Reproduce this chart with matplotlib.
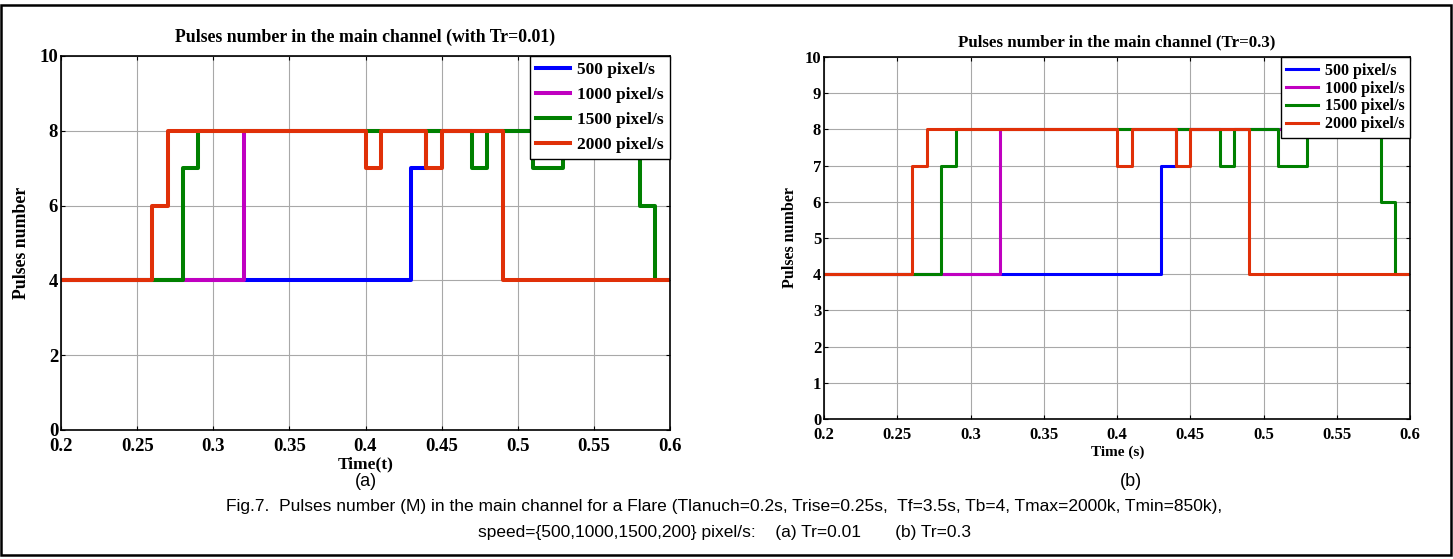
import matplotlib.pyplot as plt
from matplotlib.patches import Rectangle
from matplotlib.ticker import FuncFormatter

W, H = 1453, 559

# step change times / levels (steps-post), one set per speed
speeds = ['500 pixel/s', '1000 pixel/s', '1500 pixel/s', '2000 pixel/s']
colors = ['#0000ff', '#c000c0', '#008000', '#e03008']

t500 = [0.2, 0.43, 0.44, 0.6]
v500 = [4, 7, 8, 8]
t1000 = [0.2, 0.32, 0.6]
v1000 = [4, 8, 8]
t1500 = [0.2, 0.28, 0.29, 0.47, 0.48, 0.51, 0.53, 0.58, 0.59, 0.6]
v1500 = [4, 7, 8, 7, 8, 7, 8, 6, 4, 4]
# Tr=0.01 : red first step goes to 6, Tr=0.3 : to 7
t2000 = [0.2, 0.26, 0.27, 0.40, 0.41, 0.44, 0.45, 0.49, 0.6]
v2000_a = [4, 6, 8, 7, 8, 7, 8, 4, 4]
v2000_b = [4, 7, 8, 7, 8, 7, 8, 4, 4]

data_a = [(t500, v500), (t1000, v1000), (t1500, v1500), (t2000, v2000_a)]
data_b = [(t500, v500), (t1000, v1000), (t1500, v1500), (t2000, v2000_b)]

xticks = [0.2, 0.25, 0.3, 0.35, 0.4, 0.45, 0.5, 0.55, 0.6]

serif = 'Liberation Serif'
sans = 'Liberation Sans'

fig = plt.figure(figsize=(W / 100, H / 100), dpi=100)


def px_axes(x0, top, x1, bottom):
    return fig.add_axes([x0 / W, (H - bottom) / H, (x1 - x0) / W, (bottom - top) / H])


def fmt(x, pos):
    return ('%.2f' % x).rstrip('0').rstrip('.')


def style(ax, yticks, fs, lw_line, data, legfs, lspace, xpad):
    for (t, v), c, lab in zip(data, colors, speeds):
        ax.step(t, v, where='post', color=c, lw=lw_line, label=lab)
    ax.set_xlim(0.2, 0.6)
    ax.set_ylim(0, 10)
    ax.set_xticks(xticks)
    ax.set_yticks(yticks)
    ax.xaxis.set_major_formatter(FuncFormatter(fmt))
    ax.grid(True, color='#a8a8a8', lw=0.8)
    ax.tick_params(direction='in', top=True, right=True, length=3, width=0.8)
    ax.tick_params(axis='x', pad=xpad)
    ax.tick_params(axis='y', pad=2)
    for lab in ax.get_xticklabels() + ax.get_yticklabels():
        lab.set_fontfamily(serif)
        lab.set_fontweight('bold')
        lab.set_fontsize(fs)
    for s in ax.spines.values():
        s.set_linewidth(1.2)
    leg = ax.legend(loc='upper right', prop={'family': serif, 'weight': 'bold', 'size': legfs},
                    fancybox=False, framealpha=1, edgecolor='black', borderaxespad=0,
                    handlelength=2.0, labelspacing=lspace, borderpad=0.35, handletextpad=0.4)
    leg.get_frame().set_linewidth(1.0)


ax1 = px_axes(61, 56, 670, 430)
style(ax1, [0, 2, 4, 6, 8, 10], 13.5, 2.9, data_a, 12.5, 0.5, 5.5)
ax2 = px_axes(824, 57, 1410, 419)
style(ax2, list(range(11)), 12, 2.2, data_b, 11.5, 0.12, 6)

# titles and labels
fig.text(365 / W, 1 - 37 / H, 'Pulses number in the main channel (with Tr=0.01)', ha='center', va='center',
         family=serif, weight='bold', fontsize=12.8)
fig.text(1117 / W, 1 - 42 / H, 'Pulses number in the main channel (Tr=0.3)', ha='center', va='center',
         family=serif, weight='bold', fontsize=12.2)
fig.text(22 / W, 1 - 243 / H, 'Pulses number', rotation=90, ha='center', va='center',
         family=serif, weight='bold', fontsize=12.8)
fig.text(790 / W, 1 - 238 / H, 'Pulses number', rotation=90, ha='center', va='center',
         family=serif, weight='bold', fontsize=11.5)
fig.text(366 / W, 1 - 464 / H, 'Time(t)', ha='center', va='center',
         family=serif, weight='bold', fontsize=12.5)
fig.text(1118 / W, 1 - 452 / H, 'Time (s)', ha='center', va='center',
         family=serif, weight='bold', fontsize=11)
fig.text(366 / W, 1 - 482 / H, '(a)', ha='center', va='center', family=sans, fontsize=13)
fig.text(1131 / W, 1 - 482 / H, '(b)', ha='center', va='center', family=sans, fontsize=13)
fig.text(724 / W, 1 - 507 / H,
         'Fig.7.  Pulses number (M) in the main channel for a Flare (Tlanuch=0.2s, Trise=0.25s,  Tf=3.5s, Tb=4, Tmax=2000k, Tmin=850k),',
         ha='center', va='center', family=sans, fontsize=12.5)
fig.text(724 / W, 1 - 532 / H, 'speed={500,1000,1500,200} pixel/s:    (a) Tr=0.01       (b) Tr=0.3',
         ha='center', va='center', family=sans, fontsize=12.5)

# outer frame
fig.patches.append(Rectangle((1 / W, 4 / H), 1 - 3 / W, 1 - 9 / H, transform=fig.transFigure,
                             fill=False, edgecolor='black', lw=1.8))

fig.savefig('out.png', dpi=100)
